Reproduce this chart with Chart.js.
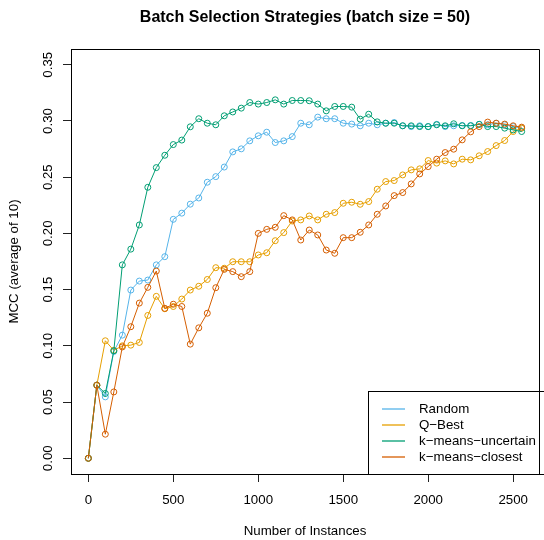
<!DOCTYPE html>
<html>
<head>
<meta charset="utf-8">
<script src="https://cdn.jsdelivr.net/npm/chart.js@4"></script>
<style>
  html, body { margin: 0; padding: 0; background: #fff; }
  canvas { display: block; }
</style>
</head>
<body>
<canvas id="mccChart" width="544" height="540"></canvas>
<script>
// number of labelled instances (x axis)
const instances = [0, 50, 100, 150, 200, 250, 300, 350, 400, 450, 500, 550, 600, 650, 700, 750, 800, 850, 900, 950,
  1000, 1050, 1100, 1150, 1200, 1250, 1300, 1350, 1400, 1450, 1500, 1550, 1600, 1650, 1700, 1750, 1800, 1850, 1900, 1950,
  2000, 2050, 2100, 2150, 2200, 2250, 2300, 2350, 2400, 2450, 2500, 2550];

// MCC, average of 10 runs
const randomMcc = [0, 0.065, 0.0546, 0.095, 0.1095, 0.1496, 0.1576, 0.1585, 0.172, 0.1793, 0.2125, 0.218, 0.226, 0.2315, 0.2455, 0.2505, 0.259, 0.2725, 0.2752, 0.2823,
  0.2868, 0.290, 0.2808, 0.2823, 0.2861, 0.298, 0.2966, 0.3034, 0.302, 0.302, 0.298, 0.2972, 0.2957, 0.298, 0.2966, 0.298, 0.2986, 0.2957, 0.295, 0.2957,
  0.295, 0.297, 0.295, 0.2957, 0.296, 0.296, 0.297, 0.2966, 0.298, 0.2966, 0.295, 0.2936];
const qBestMcc = [0, 0.065, 0.1045, 0.096, 0.100, 0.1006, 0.103, 0.127, 0.144, 0.133, 0.135, 0.1416, 0.1496, 0.153, 0.159, 0.1695, 0.169, 0.1748, 0.1748, 0.1748,
  0.1808, 0.1828, 0.1935, 0.2007, 0.211, 0.212, 0.2155, 0.212, 0.217, 0.2185, 0.2268, 0.2277, 0.2259, 0.2283, 0.2393, 0.2461, 0.247, 0.252, 0.2565, 0.2574,
  0.2648, 0.2625, 0.2645, 0.2618, 0.266, 0.2654, 0.269, 0.2728, 0.2781, 0.2826, 0.2906, 0.2936];
const kmeansUncertainMcc = [0, 0.065, 0.0576, 0.0956, 0.172, 0.186, 0.2075, 0.241, 0.2585, 0.2695, 0.279, 0.283, 0.2948, 0.302, 0.298, 0.2966, 0.3046, 0.308, 0.3114, 0.3164,
  0.315, 0.3164, 0.3188, 0.315, 0.3182, 0.3182, 0.318, 0.315, 0.309, 0.3129, 0.3129, 0.3123, 0.3016, 0.306, 0.2992, 0.298, 0.298, 0.2957, 0.2957, 0.295,
  0.295, 0.2966, 0.2957, 0.2975, 0.2957, 0.2957, 0.297, 0.295, 0.295, 0.2936, 0.292, 0.2906];
const kmeansClosestMcc = [0, 0.065, 0.0214, 0.059, 0.099, 0.117, 0.138, 0.152, 0.1665, 0.1333, 0.137, 0.135, 0.1015, 0.116, 0.129, 0.1517, 0.168, 0.166, 0.1615, 0.166,
  0.200, 0.2036, 0.2054, 0.2158, 0.212, 0.1941, 0.203, 0.1986, 0.1852, 0.1823, 0.1962, 0.1962, 0.201, 0.2075, 0.217, 0.2244, 0.2336, 0.2363, 0.244, 0.2529,
  0.2594, 0.266, 0.2719, 0.2749, 0.2832, 0.2903, 0.295, 0.299, 0.298, 0.2972, 0.2957, 0.2945];

const seriesNames = ['Random', 'Q\u2212Best', 'k\u2212means\u2212uncertain', 'k\u2212means\u2212closest'];
const seriesColors = ['#56B4E9', '#E69F00', '#009E73', '#D55E00'];
const seriesValues = [randomMcc, qBestMcc, kmeansUncertainMcc, kmeansClosestMcc];

const xTicks = [0, 500, 1000, 1500, 2000, 2500];
const yTicks = [0, 0.05, 0.10, 0.15, 0.20, 0.25, 0.30, 0.35];
const yTickLabels = ['0.00', '0.05', '0.10', '0.15', '0.20', '0.25', '0.30', '0.35'];

const FONT = '"Liberation Sans", Arial, Helvetica, sans-serif';

// R style frame, rotated y labels, titles and legend
const rStyle = {
  id: 'rStyle',
  afterDraw(chart) {
    const ctx = chart.ctx;
    const a = chart.chartArea;
    ctx.save();
    ctx.strokeStyle = '#000';
    ctx.lineWidth = 1;
    ctx.beginPath();
    ctx.moveTo(Math.round(a.left) + 0.5, Math.round(a.top) + 0.5);
    ctx.lineTo(Math.round(a.right) + 0.5, Math.round(a.top) + 0.5);
    ctx.lineTo(Math.round(a.right) + 0.5, Math.round(a.bottom) + 0.5);
    ctx.stroke();

    ctx.fillStyle = '#000';
    ctx.font = '13.3px ' + FONT;
    ctx.textAlign = 'center';
    ctx.textBaseline = 'middle';
    const ys = chart.scales.y;
    yTicks.forEach((v, i) => {
      ctx.save();
      ctx.translate(48, ys.getPixelForValue(v));
      ctx.rotate(-Math.PI / 2);
      ctx.fillText(yTickLabels[i], 0, 0);
      ctx.restore();
    });

    const cx = (a.left + a.right) / 2;
    ctx.fillText('Number of Instances', cx, 531);
    ctx.save();
    ctx.translate(14, (a.top + a.bottom) / 2);
    ctx.rotate(-Math.PI / 2);
    ctx.fillText('MCC (average of 10)', 0, 0);
    ctx.restore();

    ctx.font = 'bold 16px ' + FONT;
    ctx.fillText('Batch Selection Strategies (batch size = 50)', cx, 17.5);

    // legend
    ctx.strokeStyle = '#000';
    ctx.strokeRect(368.5, 391.5, 200, Math.round(a.bottom) - 391);
    ctx.font = '13.3px ' + FONT;
    ctx.textAlign = 'left';
    seriesNames.forEach((name, i) => {
      const y = 409 + i * 16;
      ctx.strokeStyle = seriesColors[i];
      ctx.lineWidth = 1.3;
      ctx.beginPath();
      ctx.moveTo(382, y);
      ctx.lineTo(405, y);
      ctx.stroke();
      ctx.fillText(name, 419, y);
    });
    ctx.restore();
  }
};

new Chart(document.getElementById('mccChart').getContext('2d'), {
  type: 'line',
  data: {
    datasets: seriesNames.map((name, i) => ({
      label: name,
      data: instances.map((x, j) => ({ x: x, y: seriesValues[i][j] })),
      borderColor: seriesColors[i],
      borderWidth: 1,
      pointStyle: 'circle',
      pointRadius: 3,
      pointBorderWidth: 1,
      pointBorderColor: seriesColors[i],
      pointBackgroundColor: 'rgba(0,0,0,0)',
      fill: false,
      tension: 0,
      order: 3 - i
    }))
  },
  options: {
    responsive: false,
    animation: false,
    devicePixelRatio: 1,
    layout: { padding: { top: 49, right: 0, bottom: 0, left: 0 } },
    plugins: {
      legend: { display: false },
      title: { display: false },
      tooltip: { enabled: false }
    },
    scales: {
      x: {
        type: 'linear',
        min: -102,
        max: 2652,
        bounds: 'data',
        afterBuildTicks: (scale) => { scale.ticks = xTicks.map(v => ({ value: v })); },
        afterFit: (scale) => { scale.height = 66; },
        grid: { drawOnChartArea: false, drawTicks: true, tickLength: 8, color: '#222' },
        border: { display: true, color: '#000', width: 1 },
        ticks: {
          color: '#000', padding: 10, maxRotation: 0, autoSkip: false,
          font: { family: FONT, size: 13.3 },
          callback: (value) => String(value)
        }
      },
      y: {
        type: 'linear',
        min: -0.014,
        max: 0.364,
        bounds: 'data',
        afterBuildTicks: (scale) => { scale.ticks = yTicks.map(v => ({ value: v })); },
        afterFit: (scale) => { scale.width = 71; },
        grid: { drawOnChartArea: false, drawTicks: true, tickLength: 8, color: '#222' },
        border: { display: true, color: '#000', width: 1 },
        ticks: { display: false }
      }
    }
  },
  plugins: [rStyle]
});
</script>
</body>
</html>
